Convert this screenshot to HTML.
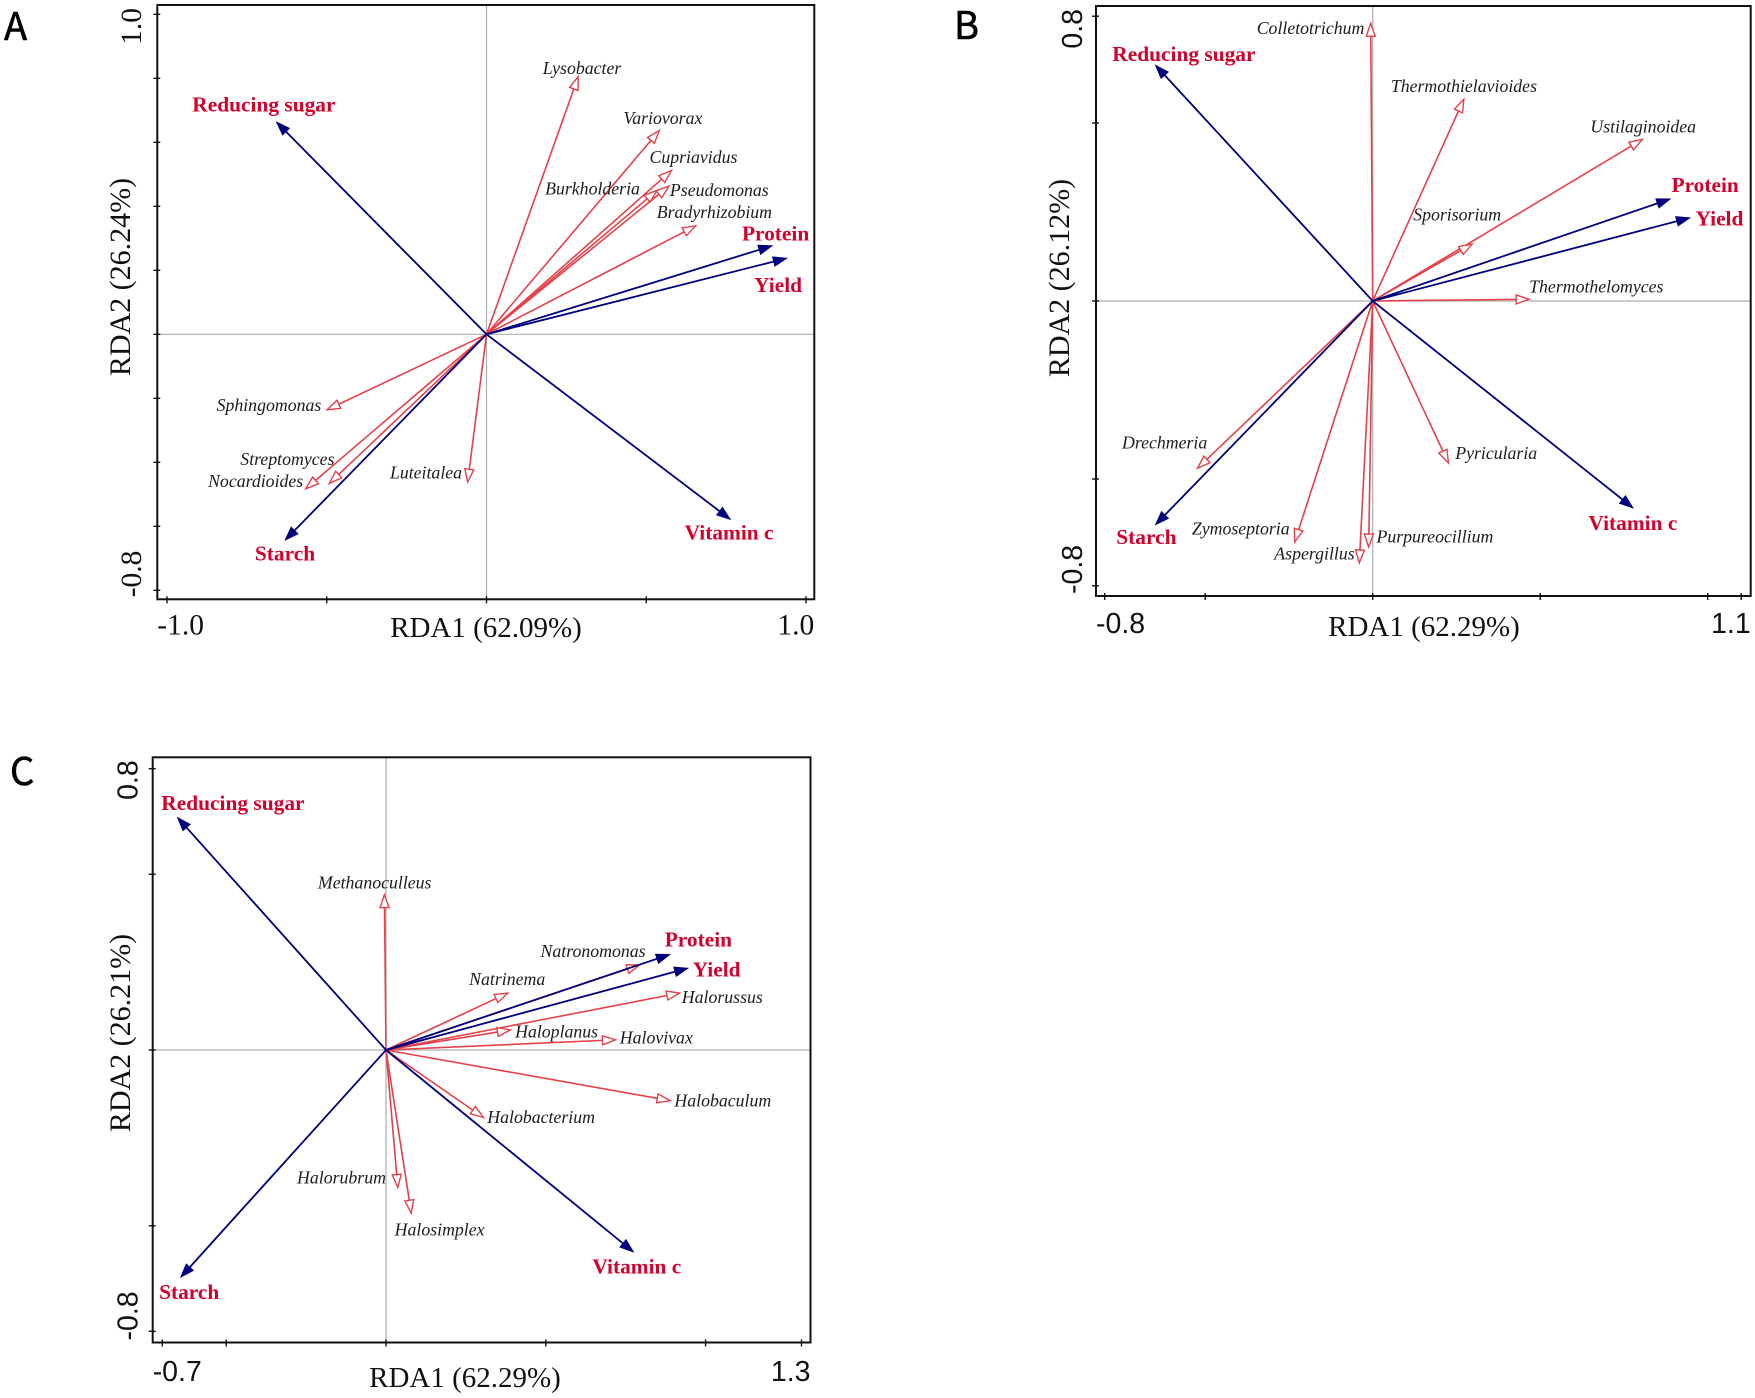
<!DOCTYPE html>
<html>
<head>
<meta charset="utf-8">
<title>RDA biplots</title>
<style>
html,body{margin:0;padding:0;background:#fff;}
svg{display:block;}
text{font-family:"Liberation Serif",serif;}
</style>
</head>
<body>
<svg id="figure" xmlns="http://www.w3.org/2000/svg" width="1755" height="1398" viewBox="0 0 1755 1398"></svg>
<script>
// ---------- data ----------
const envNames = ["Reducing sugar","Protein","Yield","Vitamin c","Starch"];

const envRda1A = [-0.658,0.895,0.941,0.764,-0.631];
const envRda2A = [0.664,0.277,0.238,-0.579,-0.644];
const speciesNamesA = ["Lysobacter","Variovorax","Cupriavidus","Burkholderia","Pseudomonas","Bradyrhizobium","Sphingomonas","Streptomyces","Nocardioides","Luteitalea"];
const speciesRda1A = [0.287,0.541,0.579,0.534,0.571,0.655,-0.499,-0.492,-0.566,-0.059];
const speciesRda2A = [0.805,0.637,0.512,0.45,0.463,0.339,-0.236,-0.466,-0.483,-0.462];
const xTicksA = [-1,-0.5,0,0.5,1];
const yTicksA = [-0.8,-0.6,-0.4,-0.2,0,0.2,0.4,0.6,0.8,1];
const xTickLabelsA = ["-1.0","","","","1.0"];
const yTickLabelsA = ["-0.8","","","","","","","","","1.0"];

const envRda1B = [-0.649,0.889,0.948,0.778,-0.649];
const envRda2B = [0.663,0.287,0.234,-0.582,-0.629];
const speciesNamesB = ["Colletotrichum","Thermothielavioides","Ustilaginoidea","Sporisorium","Thermothelomyces","Drechmeria","Pyricularia","Zymoseptoria","Aspergillus","Purpureocillium"];
const speciesRda1B = [-0.006,0.272,0.805,0.297,0.467,-0.523,0.226,-0.233,-0.04,-0.012];
const speciesRda2B = [0.78,0.567,0.454,0.16,0.005,-0.47,-0.455,-0.677,-0.736,-0.691];
const xTicksB = [-0.8,-0.5,0,0.5,1,1.1];
const yTicksB = [-0.8,-0.5,0,0.5,0.8];
const xTickLabelsB = ["-0.8","","","","","1.1"];
const yTickLabelsB = ["-0.8","","","","0.8"];

const envRda1C = [-0.653,0.889,0.946,0.775,-0.643];
const envRda2C = [0.662,0.272,0.233,-0.575,-0.647];
const speciesNamesC = ["Methanoculleus","Natronomonas","Natrinema","Halorussus","Haloplanus","Halovivax","Halobaculum","Halobacterium","Halorubrum","Halosimplex"];
const speciesRda1C = [-0.005,0.794,0.381,0.919,0.389,0.718,0.889,0.305,0.037,0.079];
const speciesRda2C = [0.442,0.242,0.162,0.162,0.057,0.029,-0.144,-0.192,-0.391,-0.464];
const xTicksC = [-0.7,-0.5,0,0.5,1,1.3];
const yTicksC = [-0.8,-0.5,0,0.5,0.8];
const xTickLabelsC = ["-0.7","","","","","1.3"];
const yTickLabelsC = ["-0.8","","","","0.8"];

// ---------- panel layout (geometry and label nudges, separate from the data) ----------
const panelA = {
  letter:"A", letterX:4, letterY:40, tickFont:'"Liberation Serif",serif', tickSize:29.5,
  left:157.3, right:814.3, top:5, bottom:599.3, x0:486.5, xUnit:319.5, y0:334.3, yUnit:320,
  xTitle:"RDA1 (62.09%)", yTitle:"RDA2 (26.24%)", xTitleX:486, xTitleY:637, yTitleX:130, yTitleY:277, yTickX:141, xTickY:634.5,
  env:envRda1A, envY:envRda2A, sp:speciesNamesA, spX:speciesRda1A, spY:speciesRda2A,
  xTicks:xTicksA, yTicks:yTicksA, xLabels:xTickLabelsA, yLabels:yTickLabelsA,
  nudge:{"Reducing sugar":[-84,-10.5],"Protein":[-30.5,-5],"Yield":[-33,34],"Vitamin c":[-46,20],"Starch":[-30,20],
    "Lysobacter":[-35.4,-2.5],"Variovorax":[-36,-6.7],"Cupriavidus":[-22,-7.6],"Burkholderia":[-112,4.2],"Pseudomonas":[1,9.7],"Bradyrhizobium":[-39,-7.6],"Sphingomonas":[-110.5,1],"Streptomyces":[-89,-18.5],"Nocardioides":[-97.6,-2],"Luteitalea":[-77.7,-3.5]}
};
const panelB = {
  letter:"B", letterX:954, letterY:39, tickFont:'"Liberation Sans",sans-serif', tickSize:28.5,
  left:1096, right:1750.7, top:6, bottom:596, x0:1372.7, xUnit:335, y0:301, yUnit:356,
  xTitle:"RDA1 (62.29%)", yTitle:"RDA2 (26.12%)", xTitleX:1424, xTitleY:636, yTitleX:1069, yTitleY:278, yTickX:1082, xTickY:633,
  env:envRda1B, envY:envRda2B, sp:speciesNamesB, spX:speciesRda1B, spY:speciesRda2B,
  xTicks:xTicksB, yTicks:yTicksB, xLabels:xTickLabelsB, yLabels:yTickLabelsB,
  nudge:{"Reducing sugar":[-43,-4],"Protein":[1,-6.7],"Yield":[5.2,7.6],"Vitamin c":[-44.9,22],"Starch":[-39,19.3],
    "Colletotrichum":[-114,10.5],"Thermothielavioides":[-73,-7],"Ustilaginoidea":[-52,-6.7],"Sporisorium":[-59,-23.5],"Thermothelomyces":[0,-6.7],"Drechmeria":[-75.5,-19.8],"Pyricularia":[6.8,-4.2],"Zymoseptoria":[-102.8,-7.6],"Aspergillus":[-85,-3.4],"Purpureocillium":[7.8,-4.7]}
};
const panelC = {
  letter:"C", letterX:10, letterY:785, tickFont:'"Liberation Sans",sans-serif', tickSize:28.5,
  left:152.7, right:810.5, top:757.3, bottom:1342.5, x0:386, xUnit:319.6, y0:1050, yUnit:351.6,
  xTitle:"RDA1 (62.29%)", yTitle:"RDA2 (26.21%)", xTitleX:465, xTitleY:1387, yTitleX:130, yTitleY:1033, yTickX:137.3, xTickY:1381,
  env:envRda1C, envY:envRda2C, sp:speciesNamesC, spX:speciesRda1C, spY:speciesRda2C,
  xTicks:xTicksC, yTicks:yTicksC, xLabels:xTickLabelsC, yLabels:yTickLabelsC,
  nudge:{"Reducing sugar":[-16,-7],"Protein":[-5.4,-8],"Yield":[4.3,8.4],"Vitamin c":[-41.3,21.5],"Starch":[-21.4,21.5],
    "Methanoculleus":[-66.5,-5.9],"Natronomonas":[-99.2,-8],"Natrinema":[-38.6,-8],"Halorussus":[2.1,10],"Haloplanus":[4.8,7.6],"Halovivax":[4.3,3.8],"Halobaculum":[4.3,5.9],"Halobacterium":[3.8,5.5],"Halorubrum":[-100.8,-4.2],"Halosimplex":[-16.6,22.3]}
};

// ---------- drawing ----------
const NS = "http://www.w3.org/2000/svg";
const figure = document.getElementById("figure");
const NAVY = "#00007c", RED = "#e5404a", LABEL_RED = "#d2002b";

function make(parent, tag, attrs, content) {
  const el = document.createElementNS(NS, tag);
  for (const k in attrs) el.setAttribute(k, attrs[k]);
  if (content !== undefined) el.textContent = content;
  parent.appendChild(el);
  return el;
}

function slug(s) { return s.toLowerCase().replace(/[^a-z0-9]+/g, "-"); }

function drawArrow(g, sx, sy, tx, ty, colour, filled, width, len, half) {
  const a = Math.atan2(ty - sy, tx - sx);
  const bx = tx - len * Math.cos(a), by = ty - len * Math.sin(a);
  const px = -Math.sin(a) * half, py = Math.cos(a) * half;
  make(g, "line", {x1:sx, y1:sy, x2:bx, y2:by, stroke:colour, "stroke-width":width});
  make(g, "polygon", {
    points:`${tx},${ty} ${bx+px},${by+py} ${bx-px},${by-py}`,
    fill: filled ? colour : "#fff", stroke:colour,
    "stroke-width": filled ? 0.6 : 1.4, "stroke-linejoin":"miter"
  });
}

function drawPanel(p) {
  const id = slug(p.letter);
  const X = v => p.x0 + v * p.xUnit;
  const Y = v => p.y0 - v * p.yUnit;

  const panel = make(figure, "g", {});
  
  

  const letter = make(panel, "text", {x:p.letterX, y:p.letterY, "font-size":38, fill:"#000", stroke:"#000", "stroke-width":0.6, style:'font-family:"Noto Sans CJK SC","Liberation Sans",sans-serif'}, p.letter);
  
  

  // zero reference lines
  const vz = make(panel, "line", {x1:X(0), x2:X(0), y1:p.top, y2:p.bottom, stroke:"#aeaeae", "stroke-width":1.2});
  
  
  const hz = make(panel, "line", {x1:p.left, x2:p.right, y1:Y(0), y2:Y(0), stroke:"#aeaeae", "stroke-width":1.2});
  
  

  // frame
  const frame = make(panel, "rect", {x:p.left, y:p.top, width:p.right-p.left, height:p.bottom-p.top, fill:"none", stroke:"#111", "stroke-width":2});
  
  

  // x ticks + labels
  p.xTicks.forEach((v, i) => {
    const t = make(panel, "line", {x1:X(v), x2:X(v), y1:p.bottom-3, y2:p.bottom+4, stroke:"#111", "stroke-width":1.4});
    
    
    const s = p.xLabels[i];
    if (s) {
      const first = i === 0;
      const l = make(panel, "text", {x: first ? p.left : p.right, y:p.xTickY, "font-size":p.tickSize, fill:"#111", "text-anchor": first ? "start" : "end", style:"font-family:" + p.tickFont}, s);
      
      
    }
  });

  // y ticks + labels
  p.yTicks.forEach((v, i) => {
    const t = make(panel, "line", {x1:p.left-4, x2:p.left+3, y1:Y(v), y2:Y(v), stroke:"#111", "stroke-width":1.4});
    
    
    const s = p.yLabels[i];
    if (s) {
      const first = i === 0;
      const yPos = first ? p.bottom - 2 : p.top + 3;
      const l = make(panel, "text", {x:p.yTickX, y:yPos, "font-size":p.tickSize, fill:"#111",
        "text-anchor": first ? "start" : "end", transform:`rotate(-90 ${p.yTickX} ${yPos})`, style:"font-family:" + p.tickFont}, s);
      
      
    }
  });

  // axis titles
  const xt = make(panel, "text", {x:p.xTitleX, y:p.xTitleY, "font-size":29, fill:"#111", "text-anchor":"middle"}, p.xTitle);
  
  
  const yt = make(panel, "text", {x:p.yTitleX, y:p.yTitleY, "font-size":30, fill:"#111", "text-anchor":"middle", transform:`rotate(-90 ${p.yTitleX} ${p.yTitleY})`}, p.yTitle);
  
  

  // species arrows (hollow red heads)
  p.sp.forEach((name, i) => {
    const g = make(panel, "g", {});
    
    
    const tx = X(p.spX[i]), ty = Y(p.spY[i]);
    drawArrow(g, X(0), Y(0), tx, ty, RED, false, 1.6, 13, 4.5);
    const n = p.nudge[name];
    const l = make(panel, "text", {x:tx+n[0], y:ty+n[1], "font-size":17.8, "font-style":"italic", fill:"#1c1c1c"}, name);
    
    
  });

  // environmental arrows (solid navy heads)
  envNames.forEach((name, i) => {
    const g = make(panel, "g", {});
    
    
    const tx = X(p.env[i]), ty = Y(p.envY[i]);
    drawArrow(g, X(0), Y(0), tx, ty, NAVY, true, 1.8, 14, 5);
    const n = p.nudge[name];
    const l = make(panel, "text", {x:tx+n[0], y:ty+n[1], "font-size":21.4, "font-weight":"bold", fill:LABEL_RED}, name);
    
    
  });
}

[panelA, panelB, panelC].forEach(drawPanel);
</script>
</body>
</html>
